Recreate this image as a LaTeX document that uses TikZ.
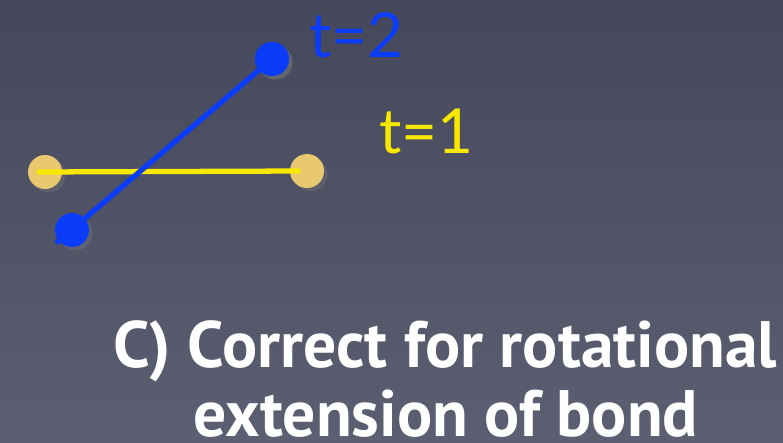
\documentclass[tikz,border=0pt]{standalone}
\usepackage{fontspec}
\setmainfont{PT Sans}
\newfontfamily\labelfont{Lato}
\usetikzlibrary{positioning,shadows}
\definecolor{BondBlue}{HTML}{0A3CFA}
\definecolor{BondYellow}{HTML}{F8E800}
\definecolor{AtomGold}{HTML}{E8C970}
\definecolor{SlateTop}{HTML}{45475A}
\definecolor{SlateBot}{HTML}{5C5E71}
\begin{document}
\begin{tikzpicture}[x=0.03cm,y=-0.03cm,
  atom/.style={circle,inner sep=0pt,minimum size=1.02cm,
    drop shadow={opacity=0.3,shadow xshift=3pt,shadow yshift=-3pt}},
  bond/.style={line width=4.5pt},
  tlabel/.style={font=\labelfont\fontsize{53}{53}\selectfont,inner sep=0pt,anchor=base west},
  caption/.style={font=\bfseries\fontsize{56}{56}\selectfont,text=white,inner sep=0pt,anchor=base}]
  \useasboundingbox (0,0) rectangle (783,442);
  % background
  \fill[top color=SlateTop,bottom color=SlateBot] (0,0) rectangle (783,442);
  % t=1 bond
  \node[atom,fill=AtomGold] (y1) at (45,172) {};
  \node[atom,fill=AtomGold] (y2) at (307,171) {};
  \draw[bond,BondYellow] ([xshift=-0.24cm]y1.center) -- ([xshift=-0.21cm]y2.center);
  % t=2 bond
  \node[atom,fill=BondBlue] (b1) at (72,230) {};
  \node[atom,fill=BondBlue] (b2) at (272,59) {};
  \coordinate (b0) at (56,243);
  \draw[bond,BondBlue] (b0) -- (b2.center);
  \node[atom,fill=BondBlue,drop shadow={opacity=0}] at (b2) {};
  % labels
  \node[tlabel,text=BondBlue] (t2) at (309,57) {t=2};
  \node[tlabel,text=BondYellow] (t1) at (379,153) {t=1};
  % caption
  \node[caption] (capA) at (445,367) {C) Correct for rotational};
  \node[caption] (capB) at (446,436) {extension of bond};
\end{tikzpicture}
\end{document}
